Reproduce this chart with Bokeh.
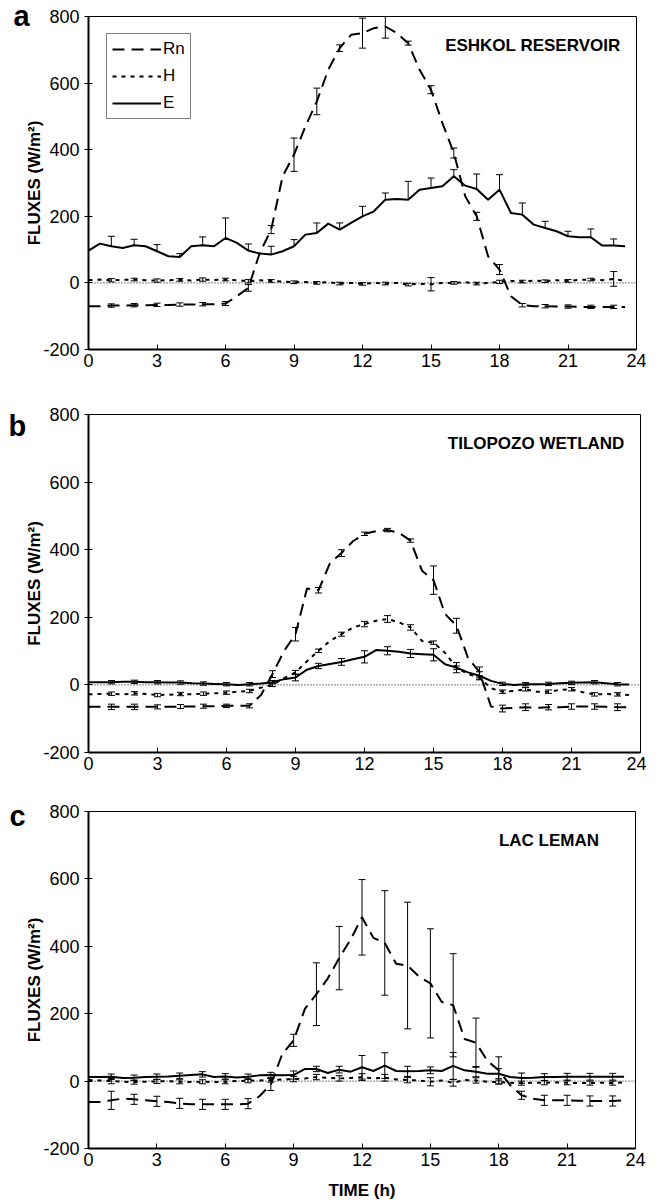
from bokeh.plotting import figure
from bokeh.models import (Range1d, FixedTicker, Span, Label, Legend, LegendItem,
                          Whisker, TeeHead, ColumnDataSource, Title)
from bokeh.layouts import column
from bokeh.embed import file_html
from bokeh.resources import INLINE

# ---------------- data ----------------
TIME = [0.0, 0.5, 1.0, 1.5, 2.0, 2.5, 3.0, 3.5, 4.0, 4.5, 5.0, 5.5,
        6.0, 6.5, 7.0, 7.5, 8.0, 8.5, 9.0, 9.5, 10.0, 10.5, 11.0, 11.5,
        12.0, 12.5, 13.0, 13.5, 14.0, 14.5, 15.0, 15.5, 16.0, 16.5, 17.0, 17.5,
        18.0, 18.5, 19.0, 19.5, 20.0, 20.5, 21.0, 21.5, 22.0, 22.5, 23.0, 23.5]
ERR_TIME = [1, 2, 3, 4, 5, 6, 7, 8, 9, 10, 11, 12, 13, 14, 15, 16, 17, 18, 19, 20, 21, 22, 23]
X_TICKS = [0, 3, 6, 9, 12, 15, 18, 21, 24]
Y_TICKS = [-200, 0, 200, 400, 600, 800]
Y_TICK_LABELS = ["-200", "0", "200", "400", "600", "800"]
SERIES = ["Rn", "H", "E"]
SITES = ["ESHKOL RESERVOIR", "TILOPOZO WETLAND", "LAC LEMAN"]
PANELS = ["a", "b", "c"]

# Panel a - Eshkol reservoir
A_RN = [-70, -70, -68, -68, -67, -67, -66, -66, -65, -65, -64, -64,
        -62, -40, -15, 90, 160, 320, 385, 470, 545, 640, 705, 745,
        750, 765, 770, 750, 720, 640, 580, 480, 390, 260, 200, 80,
        40, -40, -67, -70, -70, -71, -71, -72, -72, -72, -72, -72]
A_H = [8, 10, 8, 9, 10, 8, 7, 8, 9, 7, 10, 9,
       10, 8, 5, 8, 6, 4, 2, 3, 0, 2, -2, 0,
       -3, 0, -2, 0, -5, -3, -4, 0, 0, 2, -2, 0,
       3, 6, 4, 7, 5, 8, 6, 9, 10, 8, 12, 6]
A_E = [97, 118, 110, 105, 113, 110, 95, 80, 78, 110, 113, 110,
       135, 120, 97, 88, 85, 95, 110, 145, 150, 178, 160, 180,
       200, 215, 250, 252, 250, 280, 285, 290, 320, 292, 282, 250,
       280, 210, 205, 175, 165, 155, 140, 137, 137, 112, 112, 110]
A_RN_ERR = [5, 5, 5, 5, 5, 6, 10, 12, 50, 40, 10, 45, 35, 6, 12, 15, 12, 15, 5, 5, 5, 5, 5]
A_H_ERR = [5, 4, 5, 4, 5, 4, 5, 4, 4, 4, 4, 4, 4, 4, 20, 4, 4, 5, 4, 4, 4, 4, 22]
A_E_ERR = [30, 18, 20, 10, 25, 60, 20, 25, 20, 30, 20, 30, 20, 55, 30, 20, 45, 45, 35, 20, 15, 25, 20]

# Panel b - Tilopozo wetland
B_RN = [-65, -65, -65, -65, -65, -65, -65, -65, -64, -64, -63, -63,
        -62, -62, -62, -30, 32, 100, 150, 285, 280, 360, 390, 425,
        447, 455, 458, 450, 427, 338, 310, 210, 175, 80, 38, -64,
        -70, -68, -66, -68, -66, -66, -64, -64, -64, -65, -66, -66]
B_H = [-28, -27, -26, -28, -25, -27, -30, -29, -27, -28, -26, -25,
       -23, -20, -18, -8, 0, 20, 37, 70, 101, 130, 150, 170,
       180, 190, 195, 185, 170, 130, 125, 95, 51, 32, 22, -10,
       -20, -18, -13, -20, -20, -15, -13, -22, -28, -27, -28, -30]
B_E = [8, 8, 8, 9, 9, 8, 8, 7, 7, 5, 4, 3,
       2, 0, 2, 4, 8, 17, 22, 45, 56, 62, 68, 76,
       83, 103, 101, 98, 93, 91, 89, 61, 51, 37, 27, 12,
       3, 0, 2, 2, 3, 5, 6, 7, 8, 5, 2, 1]
B_RN_ERR = [8, 8, 6, 6, 6, 5, 6, 10, 20, 8, 10, 5, 5, 5, 42, 22, 15, 10, 10, 8, 8, 8, 10]
B_H_ERR = [5, 5, 5, 5, 5, 5, 5, 5, 6, 5, 6, 8, 10, 8, 5, 5, 5, 5, 5, 5, 5, 5, 5]
B_E_ERR = [5, 5, 5, 5, 5, 5, 5, 5, 10, 8, 10, 18, 12, 12, 18, 15, 12, 5, 5, 5, 5, 5, 5]

# Panel c - Lac Leman
C_RN = [-62, -62, -57, -52, -54, -57, -60, -62, -66, -69, -69, -69,
        -69, -69, -67, -45, -10, 80, 121, 215, 258, 305, 365, 420,
        486, 425, 410, 348, 343, 310, 290, 235, 225, 125, 114, 60,
        32, -12, -42, -52, -57, -57, -57, -58, -59, -59, -59, -57]
C_H = [3, 2, 0, -2, -3, -2, -1, 0, -2, -3, -2, -3,
       -2, 0, 1, 2, 3, 5, 6, 8, 12, 10, 8, 9,
       12, 8, 10, 5, 3, 2, -2, 2, -5, 3, 2, -2,
       -3, -5, -6, -5, -5, -4, -5, -6, -6, -5, -6, -4]
C_E = [12, 12, 13, 9, 10, 12, 13, 14, 16, 18, 20, 12,
       14, 11, 13, 17, 18, 17, 18, 36, 36, 24, 34, 28,
       41, 30, 46, 30, 29, 30, 32, 30, 45, 32, 28, 22,
       22, 12, 9, 10, 12, 12, 13, 13, 13, 13, 13, 13]
C_RN_ERR = [27, 15, 15, 15, 15, 15, 15, 18, 18, 93, 94, 112, 155, 188, 162, 153, 73, 40, 12, 15, 15, 15, 15]
C_H_ERR = [8, 6, 6, 6, 6, 6, 6, 6, 8, 8, 8, 10, 10, 8, 12, 10, 8, 6, 6, 6, 6, 6, 6]
C_E_ERR = [8, 8, 8, 8, 8, 8, 8, 8, 12, 8, 10, 35, 38, 15, 10, 40, 15, 15, 15, 10, 10, 10, 10]

FONT = "Liberation Sans"


def make_panel(idx, rn, h, e, rn_err, h_err, e_err, e_one_sided,
               frame_w, frame_h, b_left, b_right, b_top, b_bottom,
               site_x, letter_offset, letter_standoff, xlabel, legend):
    p = figure(frame_width=frame_w, frame_height=frame_h,
               min_border_left=b_left, min_border_right=b_right,
               min_border_top=b_top, min_border_bottom=b_bottom,
               x_range=Range1d(0, 24), y_range=Range1d(-200, 800),
               output_backend="svg", toolbar_location=None)
    p.background_fill_color = "white"
    p.border_fill_color = "white"
    p.xgrid.visible = False
    p.ygrid.visible = False
    p.outline_line_color = "black"
    p.outline_line_width = 1
    p.outline_line_alpha = 1

    # panel letter as a left-aligned title, pulled down beside the frame top
    p.title = Title(text=PANELS[idx], align="left", offset=letter_offset,
                    standoff=letter_standoff, vertical_align="bottom",
                    text_font=FONT, text_font_size="29px", text_font_style="bold",
                    text_color="black")

    for ax in (p.xaxis[0], p.yaxis[0]):
        ax.axis_line_color = "black"
        ax.axis_line_width = 2
        ax.major_tick_line_color = "black"
        ax.minor_tick_line_color = None
        ax.major_label_text_font = FONT
        ax.major_label_text_font_size = "18px"
        ax.major_label_text_color = "black"
        ax.axis_label_text_font = FONT
        ax.axis_label_text_font_size = "17px"
        ax.axis_label_text_font_style = "bold"
        ax.axis_label_text_color = "black"
    p.xaxis.ticker = FixedTicker(ticks=X_TICKS)
    p.yaxis.ticker = FixedTicker(ticks=Y_TICKS)
    p.yaxis.major_label_overrides = dict(zip(Y_TICKS, Y_TICK_LABELS))
    p.xaxis.major_tick_in = 5
    p.xaxis.major_tick_out = 0
    p.yaxis.major_tick_in = 4
    p.yaxis.major_tick_out = 4
    p.yaxis.axis_label = "FLUXES (W/m\u00b2)"
    p.yaxis.axis_label_standoff = -4
    p.xaxis.major_label_standoff = 4
    if xlabel:
        p.xaxis.axis_label = xlabel
        p.xaxis.axis_label_standoff = 12

    # zero reference line
    p.add_layout(Span(location=0, dimension="width", line_color="black",
                      line_width=1, line_dash="1 2"))

    # series lines
    r_rn = p.line(TIME, rn, line_color="black", line_width=2, line_dash="12 7")
    r_h = p.line(TIME, h, line_color="black", line_width=2, line_dash="4 5")
    r_e = p.line(TIME, e, line_color="black", line_width=2)

    # error bars at hourly points
    lookup = [dict(zip(TIME, s)) for s in (rn, h, e)]
    for k, (errs, one_sided) in enumerate(((rn_err, False), (h_err, False), (e_err, e_one_sided))):
        base_vals = [lookup[k][float(t)] for t in ERR_TIME]
        upper = [v + d for v, d in zip(base_vals, errs)]
        lower = base_vals if one_sided else [v - d for v, d in zip(base_vals, errs)]
        src = ColumnDataSource(dict(t=ERR_TIME, up=upper, lo=lower))
        w = Whisker(base="t", upper="up", lower="lo", source=src, dimension="height",
                    line_color="black", line_width=1,
                    upper_head=TeeHead(size=7, line_color="black", line_width=1),
                    lower_head=None if one_sided else TeeHead(size=7, line_color="black", line_width=1))
        p.add_layout(w)

    # site name
    p.add_layout(Label(x=site_x, y=713, text=SITES[idx], text_align="right",
                       text_baseline="middle", text_font=FONT, text_font_size="17px",
                       text_font_style="bold", text_color="black"))

    if legend:
        lg = Legend(items=[LegendItem(label=SERIES[0], renderers=[r_rn]),
                           LegendItem(label=SERIES[1], renderers=[r_h]),
                           LegendItem(label=SERIES[2], renderers=[r_e])],
                    location=(18, 230), orientation="vertical",
                    border_line_color="black", border_line_width=1,
                    background_fill_color="white", background_fill_alpha=1,
                    glyph_width=49, glyph_height=20, label_height=20,
                    spacing=7, padding=5, margin=0, label_standoff=2,
                    label_text_font=FONT, label_text_font_size="17px",
                    label_text_color="black")
        p.add_layout(lg)
    return p


pa = make_panel(0, A_RN, A_H, A_E, A_RN_ERR, A_H_ERR, A_E_ERR, True,
                548, 333, 81, 17, 16, 49, 23.3, -75, -30, None, True)
pb = make_panel(1, B_RN, B_H, B_E, B_RN_ERR, B_H_ERR, B_E_ERR, False,
                552, 338, 85, 9, 16, 38, 23.3, -80, -54, None, False)
pc = make_panel(2, C_RN, C_H, C_E, C_RN_ERR, C_H_ERR, C_E_ERR, False,
                547, 337, 88, 11, 21, 53, 22.4, -79, -40, "TIME (h)", False)

layout = column(pa, pb, pc, spacing=0)
open("out.html", "w").write(file_html(layout, INLINE))
